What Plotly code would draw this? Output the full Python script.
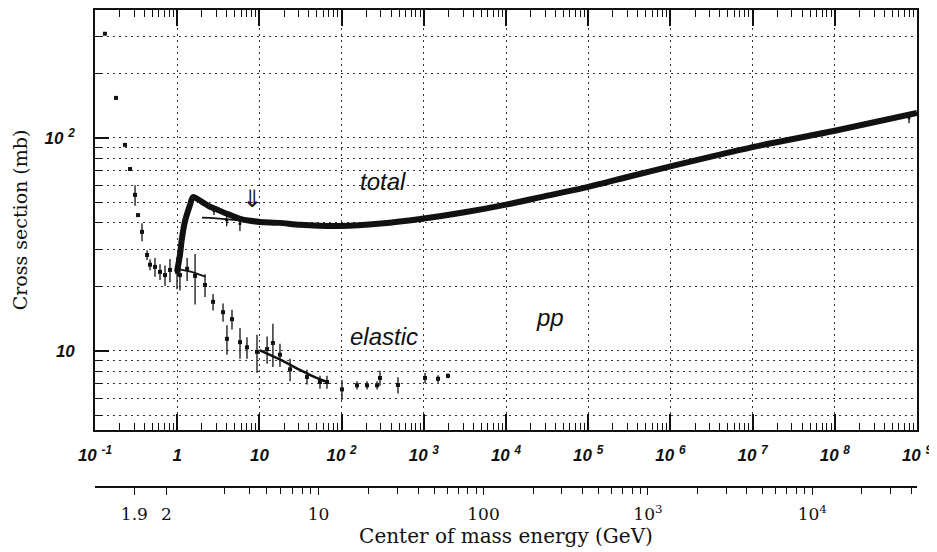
import numpy as np
import plotly.graph_objects as go

M_P = 0.938272  # proton mass, GeV


def plab_from_sqrts(w):
    w = np.asarray(w, dtype=float)
    s = w ** 2
    e = (s - 2 * M_P ** 2) / (2 * M_P)
    return np.sqrt(e ** 2 - M_P ** 2)


# ---------------- data ----------------
# total cross section band (beam momentum GeV/c, mb)
total_p = [0.994, 1.08, 1.14, 1.24, 1.43, 1.56, 2.0, 2.51, 3.14, 4.03, 5.81, 7.69,
           10.2, 17.8, 31.2, 95.5, 300, 1000, 3000, 1.0e4, 3.0e4, 1.0e5, 3.0e5, 1.0e6,
           1.0e7, 1.0e8, 1.0e9]
total_sigma = [23.5, 28.2, 33.6, 40.4, 48.4, 52.8, 50.1, 47.5, 45.9, 44.0, 41.7, 40.8,
               40.3, 39.9, 39.1, 38.6, 39.6, 41.8, 44.6, 48.6, 53.3, 58.9, 65.5, 73.5,
               90.5, 108, 131]

# thin fit branch joining the total band
total_fit_p = [2.0, 3.0, 5.8, 10.2]
total_fit_sigma = [42.2, 41.9, 41.0, 40.3]

# individual total points with error bars
total_pts_p = [2.8, 4.0, 5.8, 8.0e8]
total_pts_sigma = [45.5, 41.0, 39.5, 124]
total_pts_err = [2.0, 2.5, 3.0, 7.0]

# elastic cross section points
elastic_p = [0.132, 0.180, 0.232, 0.267, 0.307, 0.334, 0.373, 0.430, 0.467, 0.537,
             0.618, 0.711, 0.817, 0.995, 1.08, 1.32, 1.65, 2.18, 2.73, 3.61, 4.03,
             4.64, 5.81, 7.06, 9.35, 12.4, 14.6, 17.8, 23.6, 37.9, 54.6, 66.4, 101,
             154, 204, 270, 293, 485, 1035, 1490, 1970]
elastic_sigma = [308, 154, 92.7, 71.4, 54.0, 43.4, 36.2, 28.2, 25.4, 24.8,
                 23.5, 22.7, 24.0, 23.5, 22.7, 24.3, 22.5, 20.4, 17.0, 15.2, 11.4,
                 14.1, 11.0, 10.4, 9.9, 10.2, 10.9, 9.6, 8.2, 7.55, 7.15, 7.15, 6.6,
                 6.9, 6.9, 6.9, 7.47, 6.92, 7.47, 7.4, 7.64]
elastic_err = [0, 0, 0, 0, 6.0, 0, 3.5, 1.5, 1.5, 2.5,
               2.0, 2.5, 3.0, 4.0, 3.5, 3.0, 6.0, 2.5, 1.5, 1.5, 1.8,
               1.5, 1.8, 1.2, 2.0, 1.5, 2.5, 1.2, 1.0, 0.6, 0.5, 0.5, 0.7,
               0.3, 0.3, 0.3, 0.6, 0.6, 0.4, 0.3, 0.2]

# elastic fit lines
elastic_fit_p = [10, 18, 30, 45, 70]
elastic_fit_sigma = [10.1, 9.1, 8.2, 7.6, 7.1]
elastic_thr_p = [1.0, 1.5, 2.2]
elastic_thr_sigma = [24.3, 23.5, 22.3]

# axis ticks
plab_major = [10.0 ** k for k in range(-1, 10)]
plab_labels = ["10 <sup>-1</sup>", "1", "10", "10 <sup>2</sup>", "10 <sup>3</sup>",
               "10 <sup>4</sup>", "10 <sup>5</sup>", "10 <sup>6</sup>", "10 <sup>7</sup>",
               "10 <sup>8</sup>", "10 <sup>9</sup>"]
plab_minor = [m * 10.0 ** k for k in range(-1, 9) for m in range(2, 10)]

sigma_major = [10, 100]
sigma_labels = ["10", "10 <sup>2</sup>"]
sigma_minor = [5, 6, 7, 8, 9, 20, 30, 40, 50, 60, 70, 80, 90, 200, 300]

cm_major = [1.9, 2, 10, 100, 1000, 10000]
cm_labels = ["1.9", "2", "10", "100", "10<sup>3</sup>", "10<sup>4</sup>"]
cm_minor = ([3, 4, 5, 6, 7, 8, 9] + [20, 30, 40, 50, 60, 70, 80, 90]
            + [200, 300, 400, 500, 600, 700, 800, 900]
            + [2000, 3000, 4000, 5000, 6000, 7000, 8000, 9000]
            + [20000, 30000, 40000])

# ---------------- figure ----------------
INK = "#111111"
GRID = "#333333"
GRID_DASH = "2px,4px"
fig = go.Figure()

fig.add_trace(go.Scatter(x=total_p, y=total_sigma, mode="lines",
                         line=dict(color=INK, width=6, shape="spline", smoothing=0.7),
                         hoverinfo="skip", showlegend=False))
fig.add_trace(go.Scatter(x=total_fit_p, y=total_fit_sigma, mode="lines",
                         line=dict(color=INK, width=1.8, shape="spline"),
                         hoverinfo="skip", showlegend=False))
fig.add_trace(go.Scatter(x=total_pts_p, y=total_pts_sigma, mode="markers",
                         marker=dict(color=INK, size=3),
                         error_y=dict(type="data", array=total_pts_err, color=INK,
                                      thickness=1.3, width=0),
                         hoverinfo="skip", showlegend=False))
fig.add_trace(go.Scatter(x=elastic_p, y=elastic_sigma, mode="markers",
                         marker=dict(color=INK, size=4, symbol="square"),
                         error_y=dict(type="data", array=elastic_err, color=INK,
                                      thickness=1.3, width=0),
                         hoverinfo="skip", showlegend=False))
fig.add_trace(go.Scatter(x=elastic_fit_p, y=elastic_fit_sigma, mode="lines",
                         line=dict(color=INK, width=2.5, shape="spline"),
                         hoverinfo="skip", showlegend=False))
fig.add_trace(go.Scatter(x=elastic_thr_p, y=elastic_thr_sigma, mode="lines",
                         line=dict(color=INK, width=1.8), hoverinfo="skip",
                         showlegend=False))
# carrier trace for the centre-of-mass axis
fig.add_trace(go.Scatter(x=[plab_major[0]], y=[sigma_major[0]], xaxis="x2",
                         mode="markers", marker=dict(opacity=0), hoverinfo="skip",
                         showlegend=False))

sans_bi = dict(family="Liberation Sans", size=17, color=INK, weight="bold", style="italic")
serif = dict(family="DejaVu Serif", size=17, color=INK)
label_font = dict(family="Liberation Sans", size=24, color=INK, style="italic")

fig.update_layout(
    width=937, height=552,
    margin=dict(l=87, r=28, t=2, b=73, autoexpand=False),
    paper_bgcolor="white", plot_bgcolor="white",
    xaxis=dict(
        type="log", range=[-1, 9], domain=[0, 1], anchor="y", automargin=False,
        tickmode="array", tickvals=plab_major, ticktext=plab_labels,
        tickfont=sans_bi, ticks="inside", ticklen=16, tickwidth=1.5, tickcolor=INK,
        ticklabelstandoff=9,
        showline=True, linewidth=1.6, linecolor=INK, mirror="ticks",
        showgrid=True, gridcolor=GRID, gridwidth=1, griddash=GRID_DASH,
        minor=dict(tickmode="array", tickvals=plab_minor, ticks="inside", ticklen=7,
                   tickwidth=1.3, tickcolor=INK, showgrid=False),
        zeroline=False,
    ),
    yaxis=dict(
        type="log", range=[0.629, 2.60], domain=[0.1195, 1], automargin=False,
        tickmode="array", tickvals=sigma_major, ticktext=sigma_labels,
        tickfont=sans_bi, ticks="inside", ticklen=14, tickwidth=1.5, tickcolor=INK,
        ticklabelstandoff=15,
        showline=True, linewidth=1.6, linecolor=INK, mirror=True,
        showgrid=True, gridcolor=GRID, gridwidth=1, griddash=GRID_DASH,
        minor=dict(tickmode="array", tickvals=sigma_minor, ticks="inside", ticklen=7,
                   tickwidth=1.3, tickcolor=INK, showgrid=True, gridcolor=GRID,
                   gridwidth=1, griddash=GRID_DASH),
        title=dict(text="Cross section (mb)", font=dict(family="DejaVu Serif", size=19,
                                                          color=INK), standoff=12),
        zeroline=False,
    ),
    xaxis2=dict(
        type="log", range=[-1, 9], overlaying="x", anchor="free", position=0,
        side="bottom", automargin=False,
        tickmode="array", tickvals=list(plab_from_sqrts(cm_major)), ticktext=cm_labels,
        tickfont=serif, ticks="outside", ticklen=7, tickwidth=1.3, tickcolor=INK,
        ticklabelstandoff=5,
        showline=True, linewidth=1.6, linecolor=INK, showgrid=False,
        minor=dict(tickmode="array", tickvals=list(plab_from_sqrts(cm_minor)),
                   ticks="outside", ticklen=6, tickwidth=1.3, tickcolor=INK,
                   showgrid=False),
        title=dict(text="Center of mass energy (GeV)",
                   font=dict(family="DejaVu Serif", size=20, color=INK), standoff=0),
        zeroline=False,
    ),
    annotations=[
        dict(text="total", x=2.50, y=1.793, xref="x", yref="y", showarrow=False,
             font=label_font),
        dict(text="elastic", x=2.52, y=1.07, xref="x", yref="y", showarrow=False,
             font=label_font),
        dict(text="pp", x=4.53, y=1.155, xref="x", yref="y", showarrow=False,
             font=label_font),
        dict(text="⇓", x=0.91, y=1.715, xref="x", yref="y", showarrow=False,
             font=dict(family="DejaVu Sans", size=24, color=INK)),
    ],
)

fig.write_html("out.html")
